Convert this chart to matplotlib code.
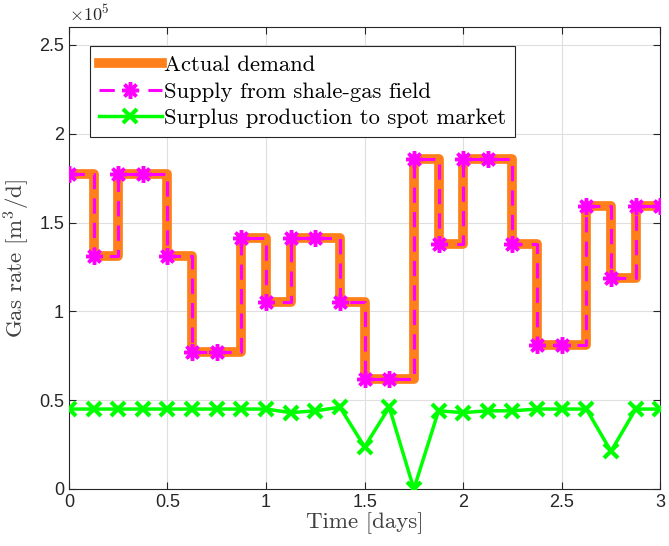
import numpy as np
import matplotlib
matplotlib.use('Agg')
import matplotlib.pyplot as plt
from matplotlib.ticker import FuncFormatter

plt.rcParams['mathtext.fontset'] = 'cm'
plt.rcParams['font.family'] = ['Liberation Sans', 'DejaVu Sans']

# time in days, 3-hour steps
time_days = [0, 0.125, 0.25, 0.375, 0.5, 0.625, 0.75, 0.875, 1.0, 1.125, 1.25, 1.375, 1.5,
             1.625, 1.75, 1.875, 2.0, 2.125, 2.25, 2.375, 2.5, 2.625, 2.75, 2.875, 3.0]

# gas rates [m3/d]
demand = [1.775e5, 1.31e5, 1.775e5, 1.775e5, 1.31e5, 0.77e5, 0.77e5, 1.415e5, 1.05e5, 1.415e5,
          1.415e5, 1.05e5, 0.62e5, 0.62e5, 1.86e5, 1.38e5, 1.86e5, 1.86e5, 1.38e5, 0.81e5,
          0.81e5, 1.595e5, 1.185e5, 1.595e5, 1.595e5]
supply = list(demand)
surplus = [0.45e5, 0.45e5, 0.45e5, 0.45e5, 0.45e5, 0.45e5, 0.45e5, 0.45e5, 0.45e5, 0.43e5,
           0.44e5, 0.46e5, 0.237e5, 0.46e5, 0.0, 0.44e5, 0.43e5, 0.44e5, 0.44e5, 0.45e5,
           0.45e5, 0.45e5, 0.212e5, 0.45e5, 0.45e5]

cm_font = {'family': 'cmr10'}

fig = plt.figure(figsize=(6.69, 5.46), dpi=100)
ax = fig.add_axes([0.103, 0.1044, 0.884, 0.846])

ax.step(time_days, demand, where='post', color='#FF801A', lw=7, label='Actual demand')
ax.step(time_days, supply, where='post', color='#FF00FF', lw=2.2, ls=(0, (5, 3)),
        marker=(8, 2, 0), markersize=12, markeredgewidth=2.5, label='Supply from shale-gas field',
        zorder=3)
ax.plot(time_days, surplus, color='#00FF00', lw=2.5, marker='x', markersize=10,
        markeredgewidth=3, label='Surplus production to spot market', zorder=4)

ax.set_xlim(0, 3)
ax.set_ylim(0, 2.6e5)
ax.set_xticks(np.arange(0, 3.01, 0.5))
ax.set_yticks(np.arange(0, 2.51e5, 0.5e5))
ax.xaxis.set_major_formatter(FuncFormatter(lambda v, p: '%g' % v))
ax.yaxis.set_major_formatter(FuncFormatter(lambda v, p: '%g' % (v / 1e5)))
ax.tick_params(direction='in', top=True, right=True, labelsize=13, length=5, colors='#262626')
ax.grid(True, color='#DFDFDF', lw=0.8)
ax.set_axisbelow(True)
for s in ax.spines.values():
    s.set_color('#262626')
    s.set_linewidth(0.8)

ax.text(0, 1.005, r'$\times10^5$', transform=ax.transAxes, fontsize=13, color='#262626',
        ha='left', va='bottom', family=['DejaVu Sans'])
ax.set_xlabel('Time [days]', fontsize=16.5, color='#404040', labelpad=1, fontdict=cm_font)
ax.set_ylabel(r'Gas rate [m$^3$/d]', fontsize=16.5, color='#404040', labelpad=5, fontdict=cm_font)

leg = ax.legend(loc='upper left', bbox_to_anchor=(0.035, 0.959), borderaxespad=0,
                handlelength=2.8, handletextpad=0.1, borderpad=0.4, labelspacing=0.3,
                fancybox=False, edgecolor='#262626', framealpha=1,
                prop={'family': 'cmr10', 'size': 16.3})
leg.get_frame().set_linewidth(0.8)

fig.savefig('out.png', dpi=100)
